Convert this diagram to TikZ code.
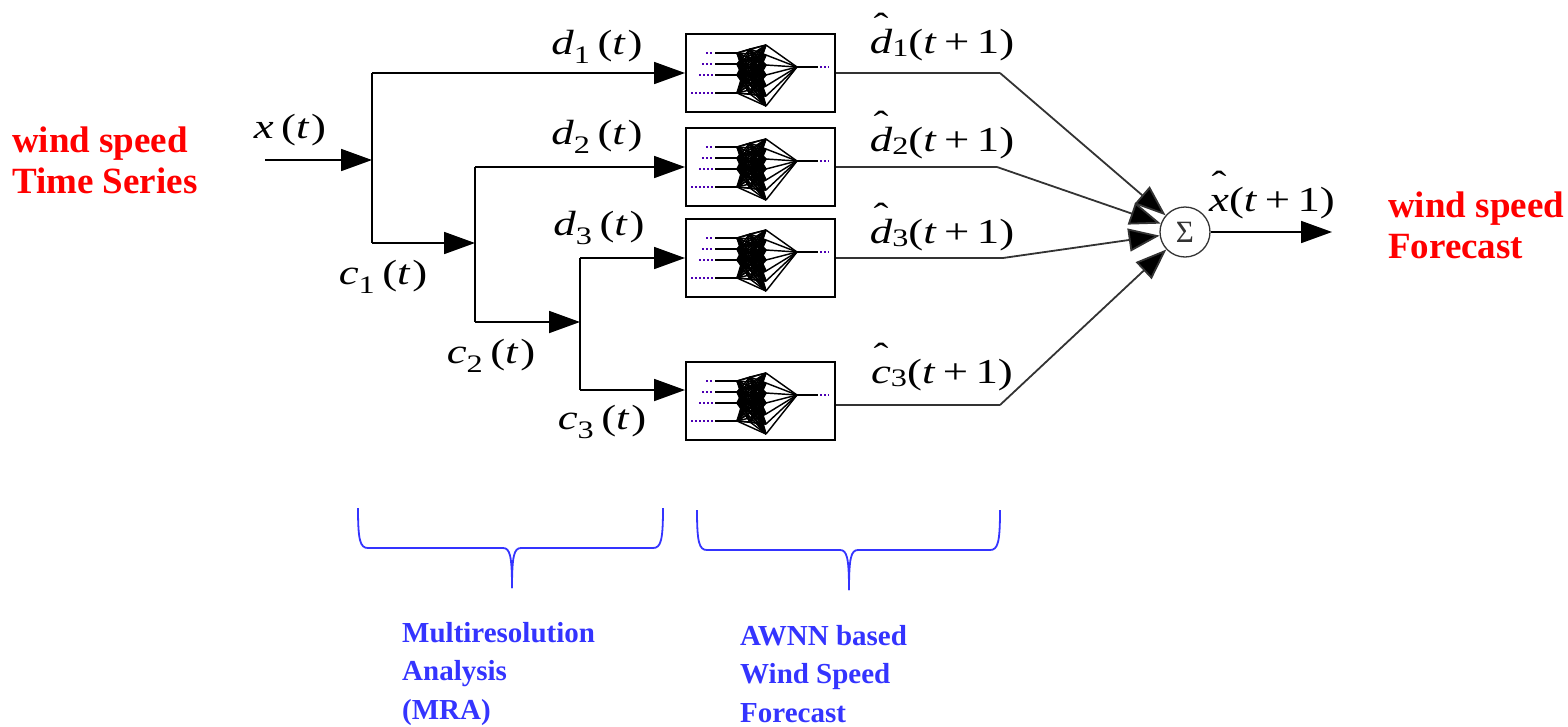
\documentclass[tikz,border=0pt]{standalone}
\usepackage{fontspec}
\setmainfont{Liberation Serif}
\usetikzlibrary{arrows.meta}

% italic symbol with a free-standing circumflex above it
\newcommand{\hatsym}[1]{\ooalign{\textit{#1}\cr\hidewidth\raisebox{0.45em}{\symbol{"02C6}}\hidewidth\cr}}
% signal labels such as d_1(t)
\newcommand{\sig}[2]{\textit{#1}\raisebox{-0.25em}{\scalebox{0.72}{#2}}\,(\textit{t}\hspace{0.04em})}
% forecast labels such as \hat d_1(t+1)
\newcommand{\fsig}[2]{\hatsym{#1}\raisebox{-0.08em}{\scalebox{0.72}{#2}}(\textit{t}\,+\,1)}
% labels are set slightly widened
\newcommand{\wide}[1]{\scalebox{1.28}[1]{#1}}

\definecolor{blueish}{RGB}{52,52,255}
\tikzset{
  wire/.style={line width=1.8pt, black},
  owire/.style={line width=1.8pt, black!80},
  arr/.style={wire, -{Triangle[length=31pt,width=22pt]}},
  sarr/.style={owire, -{Triangle[length=31pt,width=23pt, fill=black]}},
  nnbox/.style={draw, line width=2pt, minimum width=149pt, minimum height=78pt, inner sep=0pt},
  sumnode/.style={draw, circle, line width=1.3pt, black!80, minimum size=50pt, inner sep=0pt, font=\fontsize{31}{31}\selectfont},
  mathlbl/.style={inner sep=0pt, font=\fontsize{35}{35}\selectfont},
  redtxt/.style={inner sep=0pt, align=left, text=red, font=\fontsize{37}{41}\selectfont\bfseries},
  bluetxt/.style={inner sep=0pt, align=left, text=blueish, font=\fontsize{29}{38.5}\selectfont\bfseries},
  brace/.style={draw=blueish, line width=1.8pt},
  mesh/.style={line width=1.45pt, black},
  tap/.style={line width=1.3pt, violet!60!blue, dash pattern=on 2pt off 2pt},
  annet/.pic={
    % input taps and input lines
    \foreach \y/\s in {19/20,30/16,41/13,59/5} {
      \draw[tap] (\s,\y) -- (27,\y);
      \draw[line width=1.8pt] (29,\y) -- (51,\y);
      \foreach \a in {15,24,33,42,51,60} \draw[mesh] (51,\y) -- (64,\a);
    }
    % hidden layers, fully connected
    \foreach \a in {15,24,33,42,51,60} {
      \foreach \b in {11,21,31,41,52,62,72} \draw[mesh] (64,\a) -- (80,\b);
    }
    \foreach \y in {19,30,41,59} {
      \foreach \b in {11,21,31,41,52,62,72} \draw[mesh] (51,\y) -- (80,\b);
    }
    % output neuron
    \foreach \b in {11,21,31,41,52,62,72} \draw[mesh] (80,\b) -- (111,33);
    \draw[line width=1.8pt] (111,33) -- (132,33);
    \draw[tap] (134,33) -- (143,33);
  }
}

\begin{document}
\begin{tikzpicture}[x=1pt, y=-1pt]
\useasboundingbox (0,0) rectangle (1568,726);

% network boxes
\node[nnbox] (n1) at (760.5,73) {};
\node[nnbox] (n2) at (760.5,167) {};
\node[nnbox] (n3) at (760.5,258) {};
\node[nnbox] (n4) at (760.5,401) {};
\foreach \n in {n1,n2,n3,n4} \pic at ([shift={(1pt,-1pt)}]\n.north west) {annet};

% summing junction
\node[sumnode] (S) at (1185,232) {Σ};

% decomposition tree
\coordinate (xin) at (265,160);
\coordinate (j1) at (372,160);
\coordinate (j1t) at (372,73);
\coordinate (j1b) at (372,243);
\coordinate (j2) at (475,243);
\coordinate (j2t) at (475,167);
\coordinate (j2b) at (475,322);
\coordinate (j3) at (580,322);
\coordinate (j3t) at (580,258);
\coordinate (j3b) at (580,390);

\draw[arr] (xin) -- (j1);
\draw[wire] (j1t) -- (j1b);
\draw[arr] (j1t) -- (n1.west);
\draw[arr] (j1b) -- (j2);
\draw[wire] (j2t) -- (j2b);
\draw[arr] (j2t) -- (n2.west);
\draw[arr] (j2b) -- (j3);
\draw[wire] (j3t) -- (j3b);
\draw[arr] (j3t) -- (n3.west);
\draw[arr] (j3b) -- (j3b -| n4.west);

% forecasts into the summing junction
\coordinate (b1) at (1000,73);
\coordinate (b2) at (997,167);
\coordinate (b3) at (1003,258);
\coordinate (b4) at (1000,405);
\draw[owire] (n1.east) -- (b1);
\draw[owire] (n2.east) -- (b2);
\draw[owire] (n3.east) -- (b3);
\draw[owire] (b4 -| n4.east) -- (b4);
\draw[sarr] (b1) -- (S);
\draw[sarr] (b2) -- (S);
\draw[sarr] (b3) -- (S);
\draw[sarr] (b4) -- (S);
\coordinate (xout) at (1332,232);
\draw[arr] (S) -- (xout);

% signal labels
\node[mathlbl] (lx) at (290,130) {\wide{\textit{x}\,(\textit{t}\hspace{0.04em})}};
\node[mathlbl] (ld1) at (597,47) {\wide{\sig{d}{1}}};
\node[mathlbl] (ld2) at (597,137) {\wide{\sig{d}{2}}};
\node[mathlbl] (ld3) at (599,228) {\wide{\sig{d}{3}}};
\node[mathlbl] (lc1) at (383,277) {\wide{\sig{c}{1}}};
\node[mathlbl] (lc2) at (491,356) {\wide{\sig{c}{2}}};
\node[mathlbl] (lc3) at (602,422) {\wide{\sig{c}{3}}};
\node[mathlbl] (lf1) at (942,45) {\wide{\fsig{d}{1}}};
\node[mathlbl] (lf2) at (942,143) {\wide{\fsig{d}{2}}};
\node[mathlbl] (lf3) at (942,235) {\wide{\fsig{d}{3}}};
\node[mathlbl] (lf4) at (942,375) {\wide{\fsig{c}{3}}};
\node[mathlbl] (lxo) at (1272,203) {\wide{\hatsym{x}(\textit{t}\,+\,1)}};

% side captions
\node[redtxt, anchor=north west] (tin) at (12,127) {wind speed\\Time Series};
\node[redtxt, anchor=north west] (tout) at (1388,192) {wind speed\\Forecast};

% stage braces
\coordinate (a1) at (358,508);
\coordinate (a2) at (663,508);
\coordinate (at) at (512,588);
\coordinate (c1) at (697,510);
\coordinate (c2) at (1000,510);
\coordinate (ct) at (849,590);
\draw[brace] (a1) .. controls (358,540) and (360,548) .. (368,548) -- (503,548)
  .. controls (510,548) and (512,556) .. (at);
\draw[brace] (a2) .. controls (663,540) and (661,548) .. (653,548) -- (521,548)
  .. controls (514,548) and (512,556) .. (at);
\draw[brace] (c1) .. controls (697,542) and (699,550) .. (707,550) -- (840,550)
  .. controls (847,550) and (849,558) .. (ct);
\draw[brace] (c2) .. controls (1000,542) and (998,550) .. (990,550) -- (858,550)
  .. controls (851,550) and (849,558) .. (ct);

\node[bluetxt, anchor=north west] (mra) at (402,622) {Multiresolution\\Analysis\\(MRA)};
\node[bluetxt, anchor=north west] (awnn) at (740,625) {AWNN based\\Wind Speed\\Forecast};
\end{tikzpicture}
\end{document}
